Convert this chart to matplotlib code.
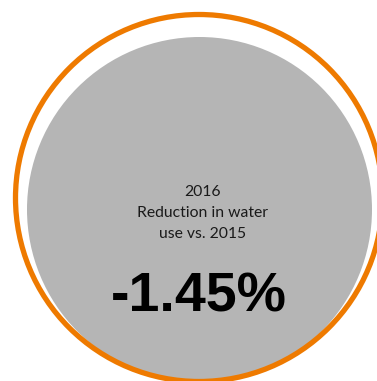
import matplotlib
matplotlib.use("Agg")
import matplotlib.pyplot as plt
from matplotlib.patches import Circle

# KPI values
year = 2016
base_year = 2015
reduction_pct = -1.45
caption = ["{}".format(year), "Reduction in water", "use vs. {}".format(base_year)]

ORANGE = "#EE7A00"
GRAY = "#B5B5B5"

W, H = 377, 381
fig = plt.figure(figsize=(W / 100, H / 100), dpi=100)
ax = fig.add_axes([0, 0, 1, 1])
ax.set_xlim(0, W)
ax.set_ylim(H, 0)
ax.set_aspect("equal")
ax.axis("off")

# filled disc, then the outer ring on top of it
ax.add_patch(Circle((199.5, 209.5), 172.5, facecolor=GRAY, edgecolor="none", zorder=1))
ax.add_patch(Circle((199, 198), 183.5, facecolor="none", edgecolor=ORANGE,
                    linewidth=3.8, zorder=2))

baselines = [196, 217, 238]
for line, y in zip(caption, baselines):
    ax.text(202.5, y, line, ha="center", va="baseline", fontsize=11.3,
            family="Lato", color="#1a1a1a", zorder=3)

ax.text(199, 312, "{:.2f}%".format(reduction_pct), ha="center", va="baseline",
        fontsize=40, fontweight="bold", family="Liberation Sans", color="black", zorder=3)

fig.savefig("out.png", dpi=100)
